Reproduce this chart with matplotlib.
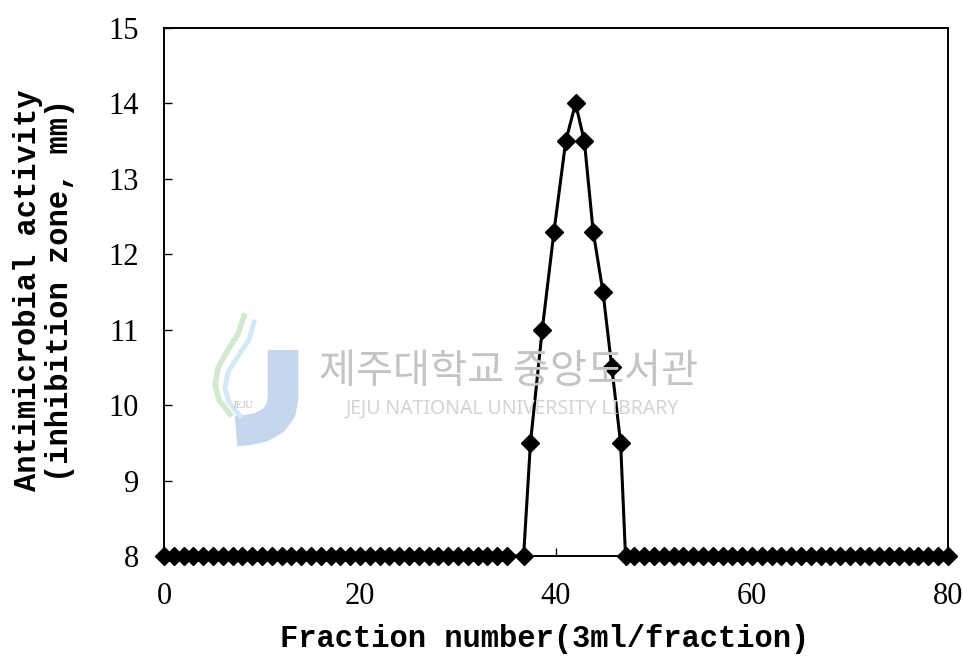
import matplotlib.pyplot as plt
from matplotlib.lines import Line2D

## data

# baseline fractions before the active peak
frac_before = [0, 1, 2, 3, 4, 5, 6, 7, 8, 9, 10, 11, 12, 13, 14, 15, 16, 17, 18,
               19, 20, 21, 22, 23, 24, 25, 26, 27, 28, 29, 30, 31, 32, 33, 34, 35, 36.7]
act_before = [8.0, 8.0, 8.0, 8.0, 8.0, 8.0, 8.0, 8.0, 8.0, 8.0, 8.0, 8.0, 8.0, 8.0,
              8.0, 8.0, 8.0, 8.0, 8.0, 8.0, 8.0, 8.0, 8.0, 8.0, 8.0, 8.0, 8.0, 8.0,
              8.0, 8.0, 8.0, 8.0, 8.0, 8.0, 8.0, 8.0, 8.0]

# active fractions
frac_peak = [37.4, 38.6, 39.8, 41.0, 42.0, 42.9, 43.8, 44.8, 45.7, 46.6]
act_peak = [9.5, 11.0, 12.3, 13.5, 14.0, 13.5, 12.3, 11.5, 10.5, 9.5]

# baseline fractions after the peak
frac_after = [47.1, 48, 49, 50, 51, 52, 53, 54, 55, 56, 57, 58, 59, 60, 61, 62, 63,
              64, 65, 66, 67, 68, 69, 70, 71, 72, 73, 74, 75, 76, 77, 78, 79, 80]
act_after = [8.0, 8.0, 8.0, 8.0, 8.0, 8.0, 8.0, 8.0, 8.0, 8.0, 8.0, 8.0, 8.0, 8.0,
             8.0, 8.0, 8.0, 8.0, 8.0, 8.0, 8.0, 8.0, 8.0, 8.0, 8.0, 8.0, 8.0, 8.0,
             8.0, 8.0, 8.0, 8.0, 8.0, 8.0]

x_ticks = [0, 20, 40, 60, 80]
y_ticks = [8, 9, 10, 11, 12, 13, 14, 15]

fractions = frac_before + frac_peak + frac_after
activity = act_before + act_peak + act_after

W, H = 963, 660
fig = plt.figure(figsize=(W / 100, H / 100), dpi=100)
ax = fig.add_axes([0.1703, 0.1576, 0.814, 0.8])


def px(x, y):
    # pixel position (from top-left) -> figure fraction
    return x / W, 1 - y / H


def fig_line(xs, ys, **kw):
    fx = [px(a, b)[0] for a, b in zip(xs, ys)]
    fy = [px(a, b)[1] for a, b in zip(xs, ys)]
    fig.add_artist(Line2D(fx, fy, transform=fig.transFigure, zorder=0, **kw))


## watermark (library stamp on the scan)
fig.text(*px(508, 372), '제주대학교 중앙도서관', family=['Noto Sans CJK KR', 'DejaVu Sans'],
         fontsize=29, color='#c4c4c4', ha='center', va='center', zorder=0)
fig.text(*px(512, 409), 'JEJU NATIONAL UNIVERSITY LIBRARY', family='Noto Sans',
         fontsize=14, color='#d4d4d4', ha='center', va='center', zorder=0)
# logo: pale blue J with two swooshes
fig_line([283, 283, 281, 274, 262, 248, 236], [350, 398, 410, 420, 427, 430, 431],
         lw=22, color='#c6d6ec', solid_capstyle='butt')
fig_line([244, 238, 228, 218, 215, 219, 230], [316, 334, 350, 368, 385, 400, 414],
         lw=4, color='#d2e8cf')
fig_line([254, 249, 238, 228, 225, 229, 240], [322, 340, 356, 372, 388, 402, 416],
         lw=3.5, color='#d3e9f3')
fig.text(*px(243, 405), 'JEJU', family='Liberation Serif', fontsize=7,
         color='#bdbdbd', ha='center', va='center', zorder=0)

ax.plot(fractions, activity, color='black', lw=2.2, marker='D', ms=9,
        markerfacecolor='black', markeredgecolor='black', zorder=3, clip_on=False)

ax.set_xlim(0, 80)
ax.set_ylim(8, 15)
ax.set_xticks(x_ticks)
ax.set_yticks(y_ticks)
ax.set_facecolor('none')

for s in ax.spines.values():
    s.set_linewidth(1.4)

ax.tick_params(axis='both', direction='in', length=6, width=1.0)
ax.tick_params(axis='x', pad=19, labelsize=22)
ax.tick_params(axis='y', pad=18, labelsize=22)
for lab in ax.get_xticklabels() + ax.get_yticklabels():
    lab.set_family('Liberation Serif')

fig.text(*px(545, 639), 'Fraction number(3ml/fraction)', family='Liberation Mono',
         fontweight='bold', fontsize=22, ha='center', va='center')
fig.text(*px(44, 290), 'Antimicrobial activity\n(inhibition zone, mm)',
         family='Liberation Mono', fontweight='bold', fontsize=22, rotation=90,
         ha='center', va='center', multialignment='center', linespacing=1.05)

fig.savefig('out.png', dpi=100)
